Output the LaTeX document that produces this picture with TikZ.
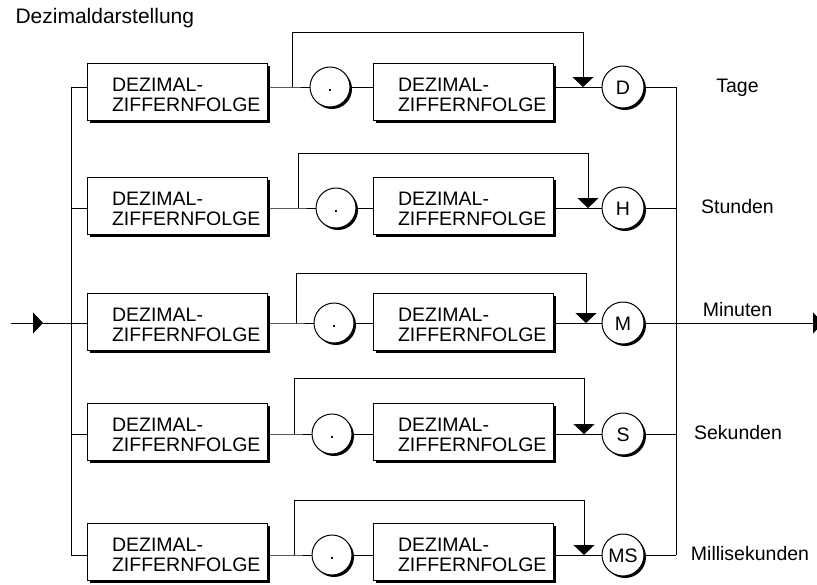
\documentclass[tikz,border=0pt]{standalone}
\usepackage{fontspec}
\setmainfont{Liberation Sans}
\usetikzlibrary{arrows.meta,shadows,calc}
\hfuzz=40pt

\begin{document}
\begin{tikzpicture}[x=1pt,y=-1pt,
  every node/.style={font=\fontsize{19.5}{19.5}\selectfont},
  conn/.style={draw=black, line width=0.8pt},
  tip/.style={-{Triangle[length=10pt,width=21pt]}},
  termbox/.style={draw, line width=1pt, fill=white, minimum width=180pt,
    minimum height=57pt, inner sep=0pt, text width=130pt, align=left,
    drop shadow={shadow xshift=3pt, shadow yshift=-3pt, fill=black, opacity=1}},
  litcirc/.style={circle, draw, line width=1pt, fill=white, minimum size=42pt,
    inner sep=0pt, text height=14pt, text depth=0pt,
    drop shadow={shadow xshift=2pt, shadow yshift=-2pt, fill=black, opacity=1}},
  dotcirc/.style={litcirc, minimum size=40pt, text height=9pt},
  lbl/.style={anchor=base}
]
\useasboundingbox (0,0) rectangle (817,584);

\node[anchor=base west, font=\fontsize{21}{21}\selectfont] (title) at (12,23.3) {Dezimaldarstellung};

% one row per unit: line y, box top, bypass x, bypass top, dot x, merge x, unit letter
\foreach \i/\y/\t/\bx/\bt/\dx/\tx/\lt in {
  1/87/63/292/32/330/583/D,
  2/208/177/298/153/336/588/H,
  3/323/293/296/273/334/586/M,
  4/434/403/294/378/332/584/S,
  5/555/523/294/500/332/584/MS}{
  \node[termbox] (a\i) at (177,\t+28.5) {\rule{0pt}{20.5pt}DEZIMAL-\\ZIFFERNFOLGE};
  \node[termbox] (b\i) at (463,\t+28.5) {\rule{0pt}{20.5pt}DEZIMAL-\\ZIFFERNFOLGE};
  \node[dotcirc] (p\i) at (\dx,\y) {.};
  \node[litcirc] (c\i) at (623,\y) {\lt};
  \coordinate (l\i) at (71,\y);
  \coordinate (r\i) at (676,\y);
  \coordinate (j\i) at (\bx,\y);
  \coordinate (k\i) at (\tx,\y);
  \coordinate (h\i) at (\tx,\bt);
  \draw[conn] (l\i) -- (l\i -| a\i.west);
  \draw[conn] (a\i.east |- j\i) -- (j\i) -- (p\i);
  \draw[conn] (p\i) -- (p\i -| b\i.west);
  \draw[conn] (b\i.east |- k\i) -- (c\i);
  \draw[conn] (c\i) -- (r\i);
  \draw[conn, tip] (j\i) |- (h\i) -- (k\i);
}

% branch rails
\draw[conn] (l1) -- (l5);
\draw[conn] (r1) -- (r5);

% entry and exit
\coordinate (in) at (11,323);
\coordinate (inarr) at (43,323);
\coordinate (out) at (823,323);
\draw[conn, tip] (in) -- (inarr);
\draw[conn] (inarr) -- (l3);
\draw[conn, tip] (r3) -- (out);

% unit names
\node[lbl] (tage) at (737.5,92) {Tage};
\node[lbl] (stunden) at (737.5,213) {Stunden};
\node[lbl] (minuten) at (737.5,316.7) {Minuten};
\node[lbl] (sekunden) at (738,439) {Sekunden};
\node[lbl] (msek) at (750,560) {Millisekunden};
\end{tikzpicture}
\end{document}
